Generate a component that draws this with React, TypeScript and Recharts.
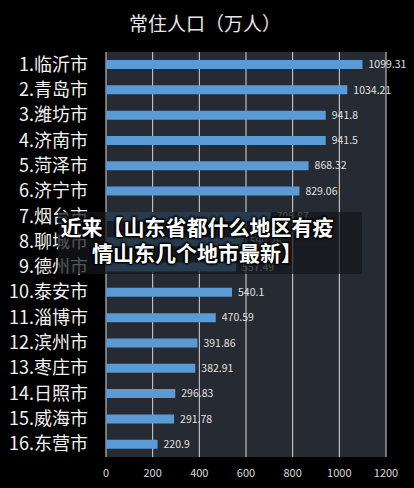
import React from 'react';
import { BarChart, Bar, XAxis, YAxis, CartesianGrid, LabelList } from 'recharts';

const cities = [
  '1.临沂市', '2.青岛市', '3.潍坊市', '4.济南市', '5.菏泽市', '6.济宁市', '7.烟台市', '8.聊城市',
  '9.德州市', '10.泰安市', '11.淄博市', '12.滨州市', '13.枣庄市', '14.日照市', '15.威海市', '16.东营市',
];
const population = [
  1099.31, 1034.21, 941.8, 941.5, 868.32, 829.06, 705.87, 590.26,
  557.49, 540.1, 470.59, 391.86, 382.91, 296.83, 291.78, 220.9,
];
const xTicks = [0, 200, 400, 600, 800, 1000, 1200];

const data = cities.map((name, i) => ({ name, value: population[i] }));

const FONT = '"Noto Sans CJK SC", "Noto Sans", sans-serif';

function CityTick(props: any) {
  const { x, y, payload } = props;
  return (
    <text x={x - 10} y={y} dy={6} textAnchor="end" fill="#f2f2f2" fontSize={18} fontFamily={FONT}>
      {payload.value}
    </text>
  );
}

export default function App() {
  return (
    <div style={{ position: 'absolute', left: 0, top: 0, width: 414, height: 488, background: '#000', overflow: 'hidden' }}>
      <div
        style={{
          position: 'absolute', left: 0, top: 9, width: 410, textAlign: 'center',
          color: '#e6e6e6', fontSize: 19, fontFamily: FONT,
        }}
      >
        常住人口（万人）
      </div>
      <BarChart
        width={414}
        height={488}
        layout="vertical"
        data={data}
        margin={{ top: 52, right: 28, bottom: 1, left: 0 }}
      >
        <CartesianGrid horizontal={false} stroke="#d8d8d8" strokeWidth={1} fill="#262a32" />
        <XAxis
          type="number"
          domain={[0, 1200]}
          ticks={xTicks}
          axisLine={false}
          tickLine={false}
          height={30}
          tick={{ fill: '#d9d9d9', fontSize: 11, fontFamily: FONT }}
          tickMargin={6}
        />
        <YAxis
          type="category"
          dataKey="name"
          width={106}
          axisLine={false}
          tickLine={false}
          tick={<CityTick />}
          interval={0}
        />
        <Bar dataKey="value" fill="#5b9bd5" barSize={9} isAnimationActive={false}>
          <LabelList dataKey="value" position="right" offset={6} fill="#e0e0e0" fontSize={10.5} fontFamily={FONT} />
        </Bar>
      </BarChart>
      <div
        style={{
          position: 'absolute', left: 58, top: 212, width: 304, height: 62,
          background: 'rgba(20,22,26,0.72)',
        }}
      />
      <div
        style={{
          position: 'absolute', left: 37, top: 213, width: 320,
          color: '#fff', fontSize: 21, fontWeight: 'bold', fontFamily: FONT, lineHeight: '26px',
          textAlign: 'center',
          textShadow: '0 0 2px #000, 1px 1px 2px #000, -1px -1px 2px #000, 1px -1px 2px #000, -1px 1px 2px #000',
        }}
      >
        近来【山东省都什么地区有疫
        <br />
        情山东几个地市最新】
      </div>
    </div>
  );
}
